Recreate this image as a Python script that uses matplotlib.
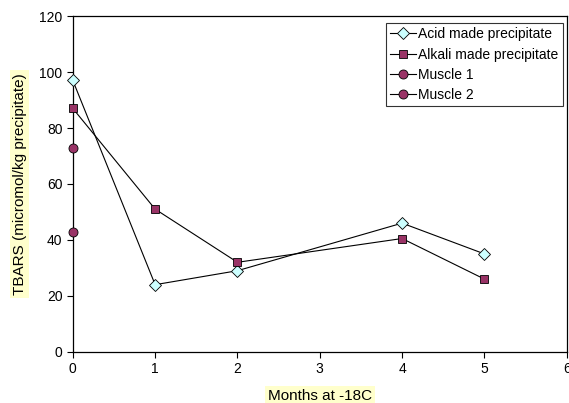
import matplotlib
matplotlib.use("Agg")
import matplotlib.pyplot as plt

plt.rcParams['font.family'] = ['Liberation Sans', 'DejaVu Sans']

# Data
months_acid = [0, 1, 2, 4, 5]
acid = [97, 24, 29, 46, 35]
months_alkali = [0, 1, 2, 4, 5]
alkali = [87, 51, 32, 40.5, 26]
muscle1_x = [0]
muscle1 = [73]
muscle2_x = [0]
muscle2 = [43]

purple = '#993366'
cyan = '#CCFFFF'

fig = plt.figure(figsize=(5.69, 4.03), dpi=100)
ax = fig.add_axes([0.128, 0.127, 0.868, 0.833])

ax.plot(months_acid, acid, color='black', lw=0.8, marker='D', ms=6,
        mfc=cyan, mec='black', mew=0.6, label='Acid made precipitate', clip_on=False, zorder=3)
ax.plot(months_alkali, alkali, color='black', lw=0.8, marker='s', ms=6,
        mfc=purple, mec='black', mew=0.6, label='Alkali made precipitate', clip_on=False, zorder=3)
ax.plot(muscle1_x, muscle1, color='black', lw=0.8, marker='o', ms=6.5,
        mfc=purple, mec='black', mew=0.6, label='Muscle 1', clip_on=False, zorder=3)
ax.plot(muscle2_x, muscle2, color='black', lw=0.8, marker='o', ms=6.5,
        mfc=purple, mec='black', mew=0.6, label='Muscle 2', clip_on=False, zorder=3)

ax.set_xlim(0, 6)
ax.set_ylim(0, 120)
ax.set_xticks(range(0, 7))
ax.set_yticks(range(0, 121, 20))
ax.tick_params(direction='out', length=4, width=0.8, labelsize=10)
for s in ax.spines.values():
    s.set_linewidth(0.9)

ax.set_xlabel('Months at -18C', fontsize=11,
              bbox=dict(facecolor='#FFFFCC', edgecolor='none', pad=2), labelpad=9)
ax.set_ylabel('TBARS (micromol/kg precipitate)', fontsize=11,
              bbox=dict(facecolor='#FFFFCC', edgecolor='none', pad=2), labelpad=9)

leg = ax.legend(loc='upper right', bbox_to_anchor=(0.992, 0.979), fontsize=10,
                frameon=True, fancybox=False, edgecolor='black', handlelength=1.85,
                handletextpad=0.2, borderpad=0.3, labelspacing=0.45, borderaxespad=0)
leg.get_frame().set_linewidth(0.8)

fig.savefig('out.png', dpi=100)
